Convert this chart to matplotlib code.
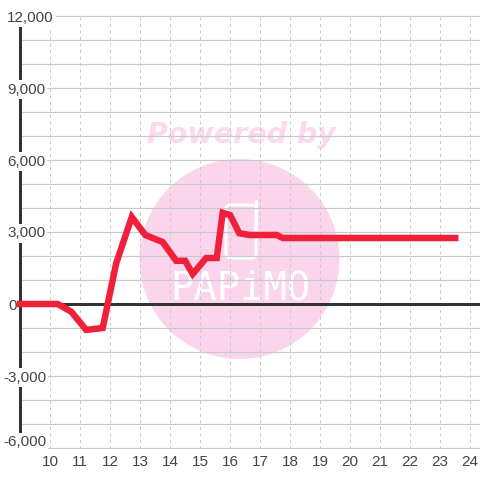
import matplotlib
matplotlib.use("Agg")
import matplotlib.pyplot as plt
from matplotlib.patches import Circle, FancyBboxPatch
from matplotlib.transforms import IdentityTransform, ScaledTranslation

plt.rcParams['font.family'] = ['Liberation Sans', 'DejaVu Sans']

# series
hours = [9.0, 10.25, 10.7, 11.2, 11.75, 12.2, 12.72, 13.17, 13.75, 14.2, 14.5,
         14.75, 15.2, 15.55, 15.75, 16.0, 16.3, 16.65, 17.55, 17.75, 23.5]
values = [0, 0, -320, -1080, -1000, 1700, 3625, 2875, 2580, 1800, 1800,
          1250, 1917, 1917, 3800, 3700, 2950, 2875, 2875, 2750, 2750]

x_ticks = list(range(10, 25))
y_major = [-6000, -3000, 0, 3000, 6000, 9000, 12000]
y_minor = [-5000, -4000, -2000, -1000, 1000, 2000, 4000, 5000, 7000, 8000, 10000, 11000]
y_labels = ['-6,000', '-3,000', '0', '3,000', '6,000', '9,000', '12,000']

PX = 72 / 100  # points per pixel at dpi 100
H = 480

fig = plt.figure(figsize=(4.8, 4.8), dpi=100, facecolor='white')
# axes box in pixels: x 20.2..480, y 15..449
ax = fig.add_axes([20.2 / 480, (H - 449) / H, (480 - 20.2) / 480, 434 / H])
ax.patch.set_visible(False)
ax.set_xlim(9, 9 + (480 - 20.2) / 30)
ax.set_ylim(-6000 - 1 / 0.024, 12000 + 1 / 0.024)

# watermark sits behind the axes, placed in pixels
pink = '#fbd5ec'
pix = IdentityTransform()
fig.add_artist(Circle((239.5, H - 259), 100, transform=pix, fc=pink, ec='none', zorder=-3))
fig.text(241.5, H - 135, 'Powered by', transform=pix, ha='center', va='center', color='#fcd9ee',
         fontsize=20.5, fontweight='bold', fontstyle='italic', zorder=-2,
         family=['DejaVu Sans'])
fig.text(240, H - 289, 'PAPiMO', transform=pix, ha='center', va='center', color='white',
         fontsize=28, family=['DejaVu Sans Mono'], zorder=-2)
fig.add_artist(FancyBboxPatch((226, H - 258), 30, 53, boxstyle='round,pad=0,rounding_size=4',
                              transform=pix, fc='none', ec='white', lw=2.2, zorder=-2))
fig.add_artist(plt.Line2D([256, 256], [H - 225, H - 201], transform=pix, color='white', lw=2.2,
                          solid_capstyle='round', zorder=-2))

ax.set_axisbelow(True)
ax.set_xticks(x_ticks)
ax.set_yticks(y_major)
ax.set_yticklabels([])
ax.set_yticks(y_minor, minor=True)
ax.grid(True, axis='y', which='both', color='#c9c9c9', lw=1.2 * PX)
ax.grid(True, axis='x', which='major', color='#c9c9c9', lw=1 * PX, ls=(0, (3, 3.5)))
ax.tick_params(axis='both', which='both', length=0)
ax.tick_params(axis='x', pad=4.5, labelsize=11, labelcolor='#444444')

# labels share one left edge, the minus sign hangs out; white box hides the axis behind
ytrans = ax.get_yaxis_transform()
for val, lab in zip(y_major, y_labels):
    dx = 7 - 20.2
    dy = -1.5
    if val < 0:
        dx -= 4
    elif val == 0:
        dx += 1
    if val == y_major[0]:
        dy = 6  # lowest label is pulled up inside the plot
    offset = ScaledTranslation(dx / 100, dy / 100, fig.dpi_scale_trans)
    ax.text(0, val, lab, transform=ytrans + offset, ha='left', va='center', fontsize=11,
            color='#444444', zorder=2.8, clip_on=False,
            bbox=dict(fc='white', ec='none', pad=1.5))

for name in ['top', 'right', 'bottom']:
    ax.spines[name].set_visible(False)
ax.spines['left'].set_linewidth(3 * PX)
ax.spines['left'].set_color('#333333')
ax.spines['left'].set_bounds(-6000, 12000)

ax.axhline(0, color='#333333', lw=3 * PX, zorder=2)
ax.plot(hours, values, color='#f0203a', lw=6.5 * PX, solid_capstyle='projecting',
        solid_joinstyle='miter', clip_on=False, zorder=3)

fig.savefig('out.png', dpi=100)
